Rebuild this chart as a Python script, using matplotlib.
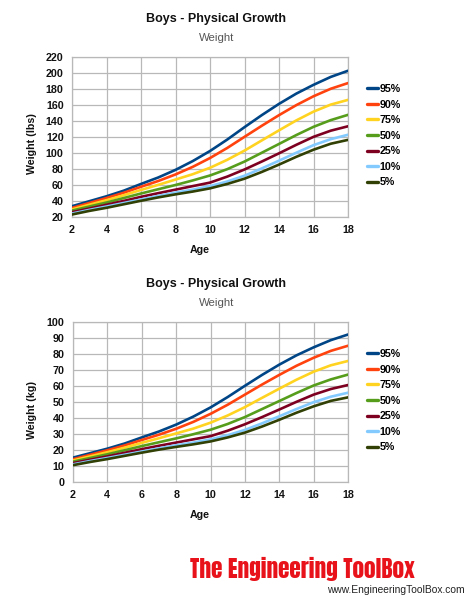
import matplotlib
matplotlib.use("Agg")
import matplotlib.pyplot as plt

ages = [2, 3, 4, 5, 6, 7, 8, 9, 10, 11, 12, 13, 14, 15, 16, 17, 18]
percentiles = ["95%", "90%", "75%", "50%", "25%", "10%", "5%"]
colors = ["#004586", "#ff420e", "#ffd320", "#579d1c", "#7e0021", "#83caff", "#314004"]

lbs_95 = [33.5, 39.7, 45.9, 52.9, 61.3, 69.4, 78.9, 89.9, 102.5, 116.8, 132.3, 147.3, 161.4, 174.2, 185.2, 195.1, 202.8]
lbs_90 = [31.3, 37.5, 43.7, 50.3, 57.8, 65.0, 73.2, 82.7, 93.7, 106.3, 120.2, 134.0, 147.3, 159.8, 170.9, 180.3, 187.4]
lbs_75 = [29.5, 35.3, 41.0, 47.2, 53.8, 60.2, 66.8, 73.5, 81.5, 91.5, 103.0, 115.7, 128.3, 140.7, 151.7, 160.5, 166.4]
lbs_50 = [28.0, 33.1, 38.1, 43.7, 49.4, 54.7, 60.0, 65.7, 71.9, 79.8, 89.3, 100.3, 111.3, 122.4, 132.7, 141.1, 147.7]
lbs_25 = [26.0, 30.6, 35.3, 40.1, 45.2, 49.8, 54.2, 58.6, 63.0, 70.5, 79.4, 89.3, 99.6, 110.2, 120.2, 127.9, 133.4]
lbs_10 = [24.3, 28.9, 33.1, 37.5, 41.9, 46.3, 50.5, 54.2, 58.6, 64.4, 71.6, 80.7, 90.4, 100.3, 109.8, 117.3, 122.8]
lbs_5 = [23.1, 27.6, 31.5, 35.9, 40.3, 44.5, 48.3, 51.8, 55.8, 61.3, 67.9, 76.3, 85.5, 95.2, 104.1, 111.6, 116.4]

kg_95 = [15.2, 18.0, 20.8, 24.0, 27.8, 31.5, 35.8, 40.8, 46.5, 53.0, 60.0, 66.8, 73.2, 79.0, 84.0, 88.5, 92.0]
kg_90 = [14.2, 17.0, 19.8, 22.8, 26.2, 29.5, 33.2, 37.5, 42.5, 48.2, 54.5, 60.8, 66.8, 72.5, 77.5, 81.8, 85.0]
kg_75 = [13.4, 16.0, 18.6, 21.4, 24.4, 27.3, 30.3, 33.3, 37.0, 41.5, 46.7, 52.5, 58.2, 63.8, 68.8, 72.8, 75.5]
kg_50 = [12.7, 15.0, 17.3, 19.8, 22.4, 24.8, 27.2, 29.8, 32.6, 36.2, 40.5, 45.5, 50.5, 55.5, 60.2, 64.0, 67.0]
kg_25 = [11.8, 13.9, 16.0, 18.2, 20.5, 22.6, 24.6, 26.6, 28.6, 32.0, 36.0, 40.5, 45.2, 50.0, 54.5, 58.0, 60.5]
kg_10 = [11.0, 13.1, 15.0, 17.0, 19.0, 21.0, 22.9, 24.6, 26.6, 29.2, 32.5, 36.6, 41.0, 45.5, 49.8, 53.2, 55.7]
kg_5 = [10.5, 12.5, 14.3, 16.3, 18.3, 20.2, 21.9, 23.5, 25.3, 27.8, 30.8, 34.6, 38.8, 43.2, 47.2, 50.6, 52.8]

lbs_series = [lbs_95, lbs_90, lbs_75, lbs_50, lbs_25, lbs_10, lbs_5]
kg_series = [kg_95, kg_90, kg_75, kg_50, kg_25, kg_10, kg_5]

x_ticks = [2, 4, 6, 8, 10, 12, 14, 16, 18]
lbs_ticks = list(range(20, 221, 20))
kg_ticks = list(range(0, 101, 10))

plt.rcParams['font.family'] = ['Liberation Sans', 'DejaVu Sans']

W, H = 474, 599
fig = plt.figure(figsize=(W / 100, H / 100), dpi=100)
fig.patch.set_facecolor("white")

GRID = "#b8b8b8"


def make_chart(rect, series, yticks, ylim, ylabel, title_y, sub_y, age_y, ylab_x, ylab_y, leg_top):
    ax = fig.add_axes(rect)
    for s, c, lab in zip(series, colors, percentiles):
        ax.plot(ages, s, color=c, lw=1.9, label=lab, solid_capstyle="round", zorder=3)
    ax.set_xlim(2, 18)
    ax.set_ylim(*ylim)
    ax.set_xticks(x_ticks)
    ax.set_yticks(yticks)
    ax.grid(True, color=GRID, lw=0.9, zorder=0)
    for sp in ax.spines.values():
        sp.set_color(GRID)
        sp.set_linewidth(0.9)
    ax.tick_params(length=0, labelsize=7.7, pad=6)
    for t in ax.get_xticklabels() + ax.get_yticklabels():
        t.set_fontweight("bold")
        t.set_color("#111111")
    fig.text(216 / W, 1 - title_y / H, "Boys - Physical Growth", ha="center", va="center",
             fontsize=9.0, fontweight="bold", color="#111111")
    fig.text(217 / W, 1 - sub_y / H, "Weight", ha="center", va="center",
             fontsize=8.2, color="#555555")
    fig.text(200 / W, 1 - age_y / H, "Age", ha="center", va="center",
             fontsize=7.7, fontweight="bold", color="#111111")
    fig.text(ylab_x / W, 1 - ylab_y / H, ylabel, ha="center", va="center", rotation=90,
             fontsize=7.7, fontweight="bold", color="#111111")
    leg = ax.legend(loc="upper left", bbox_to_anchor=(367 / W, 1 - leg_top / H),
                    bbox_transform=fig.transFigure, frameon=False,
                    prop={"size": 7.7, "weight": "bold"}, handlelength=1.05,
                    handletextpad=0.15, labelspacing=0.52, borderpad=0, borderaxespad=0)
    for l in leg.get_lines():
        l.set_linewidth(2.4)
    return ax


make_chart([72 / W, 1 - 217 / H, 276 / W, 160 / H], lbs_series, lbs_ticks, (20, 220),
           "Weight (lbs)", 19, 38, 250, 32, 144, 84)
make_chart([73 / W, 1 - 482 / H, 275 / W, 160.3 / H], kg_series, kg_ticks, (0, 100),
           "Weight (kg)", 284, 303, 515, 32, 410, 349)

fig.text(190 / W, 1 - 578 / H, "The Engineering ToolBox", ha="left", va="baseline",
         fontsize=16.8, color="#e8121a",
         family=["Anton", "Oswald", "Barlow Condensed", "DejaVu Sans"])
fig.text(465 / W, 1 - 590 / H, "www.EngineeringToolBox.com", ha="right", va="center",
         fontsize=7.4, color="#222222")

fig.savefig("out.png", dpi=100, facecolor="white")
